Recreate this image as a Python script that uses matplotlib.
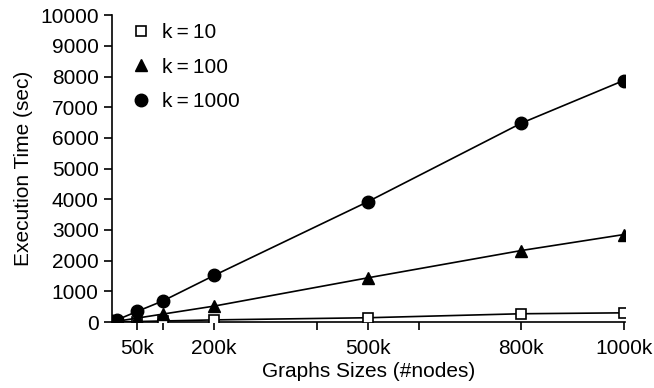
import matplotlib
matplotlib.use("Agg")
import matplotlib.pyplot as plt

plt.rcParams['font.family'] = ['Liberation Sans', 'DejaVu Sans']

# graph sizes in thousands of nodes
sizes = [1, 10, 50, 100, 200, 500, 800, 1000]
k10 = [2, 5, 17, 35, 70, 140, 270, 300]
k100 = [5, 25, 130, 260, 520, 1440, 2330, 2850]
k1000 = [20, 70, 350, 690, 1520, 3920, 6480, 7870]

tick_pos = [50, 100, 200, 400, 500, 600, 800, 1000]
tick_lab = ['50k', '', '200k', '', '500k', '', '800k', '1000k']

fs = 15

fig = plt.figure(figsize=(6.54, 3.88), dpi=100)
ax = fig.add_axes([0.171, 0.170, 0.785, 0.791])

ax.plot(sizes, k10, color='black', lw=1.2, marker='s', ms=7.5,
        mfc='white', mec='black', mew=1.2, label='k\u2009=\u200910', zorder=3)
ax.plot(sizes, k100, color='black', lw=1.2, marker='^', ms=8,
        mfc='black', mec='black', label='k\u2009=\u2009100', zorder=4)
ax.plot(sizes, k1000, color='black', lw=1.2, marker='o', ms=9,
        mfc='black', mec='black', label='k\u2009=\u20091000', zorder=5)

ax.set_xlim(0, 1003)
ax.set_ylim(0, 10000)
ax.set_yticks(range(0, 10001, 1000))
ax.set_xticks(tick_pos)
ax.set_xticklabels(tick_lab)

for s in ['top', 'right']:
    ax.spines[s].set_visible(False)
for s in ['left', 'bottom']:
    ax.spines[s].set_linewidth(1.2)
ax.tick_params(direction='out', length=6, width=1.2, labelsize=fs)
ax.tick_params(axis='x', pad=6)

ax.set_xlabel('Graphs Sizes (#nodes)', fontsize=fs, labelpad=3)
ax.set_ylabel('Execution Time (sec)', fontsize=fs, labelpad=5)

leg = ax.legend(loc='upper left', frameon=False, fontsize=fs,
                bbox_to_anchor=(0.0, 1.035), handlelength=1.0,
                handletextpad=0.5, labelspacing=0.75)
for h in leg.legend_handles:
    h.set_linestyle('None')

plt.savefig('out.png', dpi=100)
